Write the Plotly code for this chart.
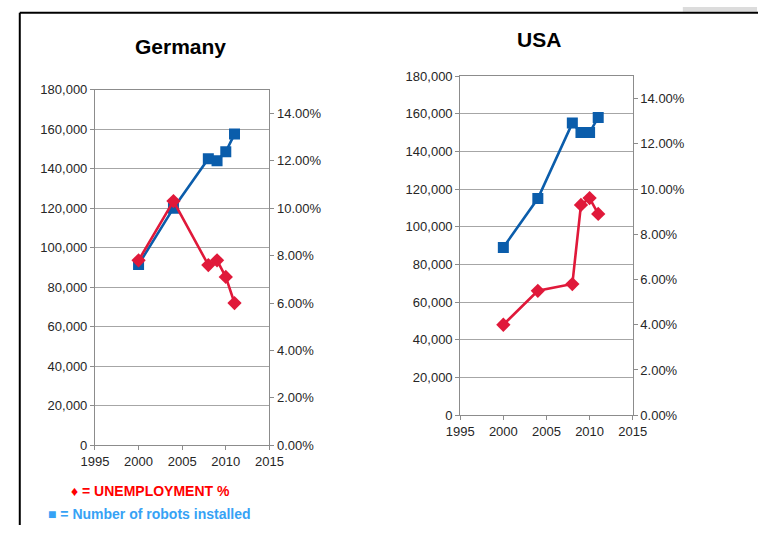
import plotly.graph_objects as go

# Data
years = [2000, 2004, 2008, 2009, 2010, 2011]

germany_robots = [91500, 120000, 145000, 144000, 148500, 157500]
germany_unemployment = [0.078, 0.103, 0.076, 0.078, 0.071, 0.060]

usa_robots = [89000, 115000, 155000, 150000, 150000, 158000]
usa_unemployment = [0.040, 0.055, 0.058, 0.093, 0.096, 0.089]

titles = ["Germany", "USA"]
legend_lines = ["\u2666 = UNEMPLOYMENT %", "\u25a0 = Number of robots installed"]

W, H = 772, 533
BLUE = "#0b5dab"
RED = "#e0193a"
GRID = "#a6a6a6"
AXIS = "#8c8c8c"
TICKFONT = dict(family="Liberation Sans, Arial, sans-serif", size=13, color="#262626")


def px_x(x):
    return x / W


def px_y(y):
    return (H - y) / H


fig = go.Figure()

panels = [
    # (robots, unemployment, x-axis id, left y id, right y id, plot box in px)
    (germany_robots, germany_unemployment, "x", "y", "y2", (84, 265, 85, 451)),
    (usa_robots, usa_unemployment, "x2", "y3", "y4", (463, 642, 71, 420)),
]

for robots, unemp, xa, yl, yr, box in panels:
    fig.add_trace(go.Scatter(
        x=years, y=robots, xaxis=xa, yaxis=yl, mode="lines+markers",
        line=dict(color=BLUE, width=2.6),
        marker=dict(symbol="square", size=11, color=BLUE),
        showlegend=False, hoverinfo="skip"))
    fig.add_trace(go.Scatter(
        x=years, y=unemp, xaxis=xa, yaxis=yr, mode="lines+markers",
        line=dict(color=RED, width=2.6),
        marker=dict(symbol="diamond", size=11, color=RED),
        showlegend=False, hoverinfo="skip"))

layout_axes = {}
for i, (robots, unemp, xa, yl, yr, box) in enumerate(panels):
    x0, x1, y0, y1 = box
    xdom = [px_x(x0), px_x(x1)]
    ydom = [px_y(y1), px_y(y0)]
    xkey = "xaxis" if xa == "x" else "xaxis" + xa[1:]
    ylkey = "yaxis" if yl == "y" else "yaxis" + yl[1:]
    yrkey = "yaxis" + yr[1:]
    layout_axes[xkey] = dict(
        domain=xdom, anchor=yl, range=[1995, 2015], dtick=5, tick0=1995,
        showgrid=False, zeroline=False, showline=True, linecolor=AXIS,
        linewidth=1, mirror=True, ticks="outside", ticklen=4, tickcolor=AXIS,
        tickfont=TICKFONT, fixedrange=True)
    layout_axes[ylkey] = dict(
        domain=ydom, anchor=xa, range=[0, 180000], dtick=20000,
        tickformat=",d", showgrid=True, gridcolor=GRID, gridwidth=1,
        zeroline=False, showline=True, linecolor=AXIS, linewidth=1,
        ticks="outside", ticklen=4, tickcolor=AXIS, tickfont=TICKFONT,
        fixedrange=True)
    layout_axes[yrkey] = dict(
        overlaying=yl, side="right", anchor=xa, range=[0, 0.15], dtick=0.02,
        tickformat=".2%", showgrid=False, zeroline=False, showline=True,
        linecolor=AXIS, linewidth=1, ticks="outside", ticklen=4,
        tickcolor=AXIS, tickfont=TICKFONT, fixedrange=True)

annotations = [
    dict(text="<b>%s</b>" % titles[0], x=px_x(173), y=px_y(41)),
    dict(text="<b>%s</b>" % titles[1], x=px_x(545), y=px_y(33)),
]
for a in annotations:
    a.update(xref="paper", yref="paper", showarrow=False,
             xanchor="center", yanchor="middle",
             font=dict(family="Liberation Sans, Arial, sans-serif", size=21, color="#000000"))

annotations.append(dict(
    text="<b>%s</b>" % legend_lines[0], x=px_x(57), y=px_y(498),
    xref="paper", yref="paper", showarrow=False, xanchor="left", yanchor="middle",
    font=dict(family="Liberation Sans, Arial, sans-serif", size=14, color="#ff0000")))
annotations.append(dict(
    text="<b>%s</b>" % legend_lines[1], x=px_x(33), y=px_y(522),
    xref="paper", yref="paper", showarrow=False, xanchor="left", yanchor="middle",
    font=dict(family="Liberation Sans, Arial, sans-serif", size=14, color="#36a2f5")))

shapes = [
    # outer frame (top and left edges)
    dict(type="line", xref="paper", yref="paper",
         x0=px_x(6), x1=px_x(772), y0=px_y(6), y1=px_y(6),
         line=dict(color="#000000", width=2)),
    dict(type="line", xref="paper", yref="paper",
         x0=px_x(6), x1=px_x(6), y0=px_y(6), y1=px_y(533),
         line=dict(color="#000000", width=2)),
    # grey strip in the top-right corner
    dict(type="rect", xref="paper", yref="paper",
         x0=px_x(694), x1=px_x(771), y0=px_y(5), y1=px_y(0),
         fillcolor="#dcdcdc", line=dict(width=0), layer="below"),
]

fig.update_layout(
    width=W, height=H, margin=dict(l=0, r=0, t=0, b=0),
    paper_bgcolor="white", plot_bgcolor="white",
    annotations=annotations, shapes=shapes, showlegend=False,
    **layout_axes)

fig.write_html(
    "out.html",
    config={"displayModeBar": False},
    post_script="document.body.style.margin='0';document.body.style.overflow='hidden';",
)
